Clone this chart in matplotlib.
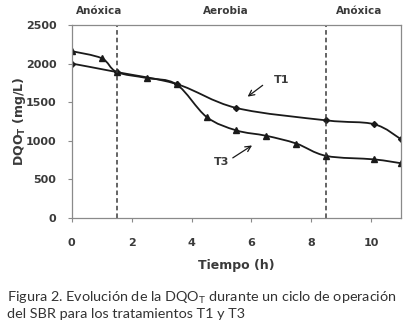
import numpy as np
import matplotlib
matplotlib.use('Agg')
import matplotlib.pyplot as plt
from matplotlib.path import Path
from matplotlib.patches import PathPatch

# datos
t1_x = [0, 1.5, 3.5, 5.5, 8.5, 10.1, 11]
t1_y = [2000, 1890, 1735, 1425, 1265, 1215, 1020]
t3_x = [0, 1, 1.5, 2.5, 3.5, 4.5, 5.5, 6.5, 7.5, 8.5, 10.1, 11]
t3_y = [2160, 2068, 1890, 1813, 1730, 1310, 1135, 1065, 965, 805, 760, 710]
fases = ['Anóxica', 'Aerobia', 'Anóxica']
fases_x = [0.9, 5.15, 9.6]
cortes = [1.5, 8.5]
xticks = [0, 2, 4, 6, 8, 10]
yticks = [0, 500, 1000, 1500, 2000, 2500]

COL = '#1a1a1a'
GRAY = '#3a3a3a'


def smooth_path(xs, ys):
    # curva tipo "linea suavizada" de Excel (bezier cubica)
    p = np.column_stack([xs, ys]).astype(float)
    verts = [p[0]]
    codes = [Path.MOVETO]
    n = len(p)
    for i in range(n - 1):
        p0 = p[i - 1] if i > 0 else p[i]
        p3 = p[i + 2] if i + 2 < n else p[i + 1]
        c1 = p[i] + (p[i + 1] - p0) / 6.
        c2 = p[i + 1] - (p3 - p[i]) / 6.
        verts += [c1, c2, p[i + 1]]
        codes += [Path.CURVE4] * 3
    return Path(verts, codes)


fig = plt.figure(figsize=(4.08, 3.32), dpi=100)
ax = fig.add_axes([0.176, 0.343, 0.807, 0.582])

for xs, ys, mk, ms in [(t1_x, t1_y, 'D', 3), (t3_x, t3_y, '^', 4.5)]:
    ax.add_patch(PathPatch(smooth_path(xs, ys), fill=False, edgecolor=COL, lw=1.3))
    ax.plot(xs, ys, linestyle='none', marker=mk, ms=ms, color=COL)

for c in cortes:
    ax.axvline(c, color=GRAY, ls=(0, (3, 2)), lw=1.1)

ax.set_xlim(0, 11)
ax.set_ylim(0, 2500)
ax.set_xticks(xticks)
ax.set_yticks(yticks)
for s in ax.spines.values():
    s.set_color('#8a8a8a')
    s.set_linewidth(0.9)
ax.tick_params(colors='#8a8a8a', labelcolor=GRAY, length=3, labelsize=8, pad=8)
ax.tick_params(axis='x', pad=11)
for lab in ax.get_xticklabels() + ax.get_yticklabels():
    lab.set_fontweight('bold')

ax.set_xlabel('Tiempo (h)', fontsize=9, fontweight='bold', color=GRAY, labelpad=8)
ax.set_ylabel('DQO$_\\mathbf{T}$ (mg/L)', fontsize=9, fontweight='bold', color=GRAY)
ax.yaxis.set_label_coords(-0.132, 0.5)

for nom, fx in zip(fases, fases_x):
    ax.text(fx, 2610, nom, ha='center', va='bottom', fontsize=7.5, fontweight='bold', color=GRAY)

ax.text(6.75, 1790, 'T1', fontsize=8, fontweight='bold', color=GRAY, va='center')
ax.annotate('', xy=(5.8, 1550), xytext=(6.45, 1740),
            arrowprops=dict(arrowstyle='->', color=COL, lw=0.9))
ax.text(4.75, 730, 'T3', fontsize=8, fontweight='bold', color=GRAY, va='center')
ax.annotate('', xy=(6.1, 960), xytext=(5.3, 760),
            arrowprops=dict(arrowstyle='->', color=COL, lw=0.9))

fig.text(0.018, 0.035, 'Figura 2. Evolución de la DQO$_\\mathregular{T}$ durante un ciclo de operación\n'
         'del SBR para los tratamientos T1 y T3',
         fontsize=10.4, family='Lato', color='#333333', va='bottom', linespacing=1.2)

fig.savefig('out.png', dpi=100)
